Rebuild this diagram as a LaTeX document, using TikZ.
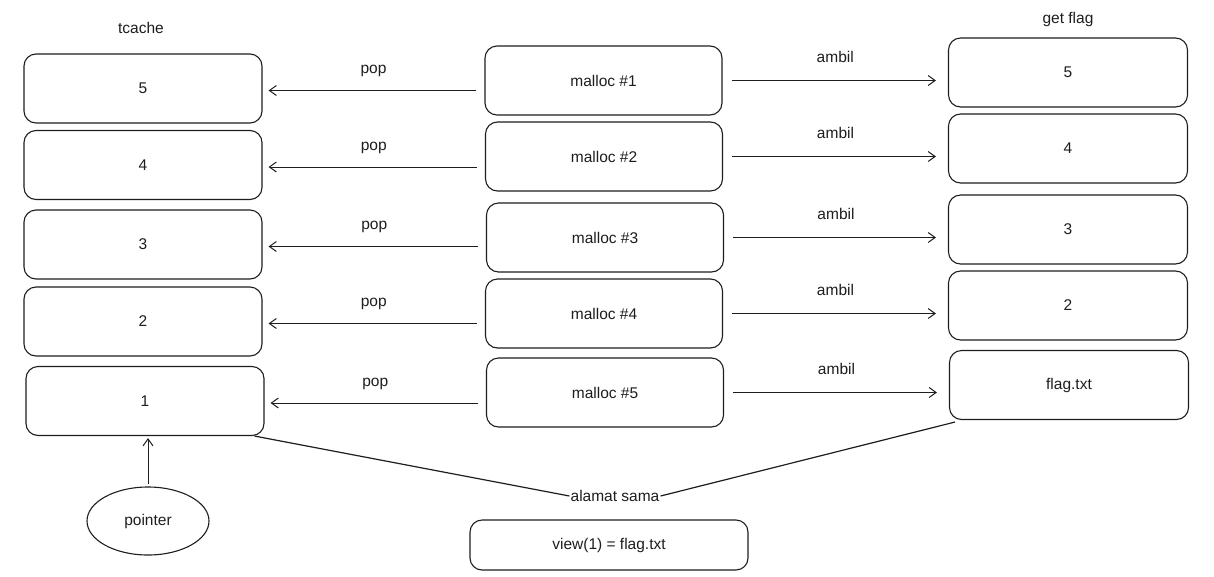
\documentclass[tikz,border=0pt]{standalone}
\usepackage{fontspec}
\setmainfont{Liberation Sans}
\usetikzlibrary{arrows.meta,shapes.geometric}
\definecolor{ink}{HTML}{1E1E1E}
\begin{document}
\begin{tikzpicture}[x=1pt,y=-1pt,
  box/.style={draw=ink,line width=1.1pt,rounded corners=12pt,minimum width=238pt,minimum height=69pt,inner sep=0pt,font=\fontsize{15.5}{18}\selectfont,text=ink},
  lbl/.style={font=\fontsize{15.5}{18}\selectfont,text=ink,inner sep=1pt},
  arr/.style={draw=ink,line width=1pt,-{Straight Barb[length=7pt,width=10pt]}},
  ln/.style={draw=ink,line width=1.2pt}]
\useasboundingbox (0,0) rectangle (1214,576);
\fill[white] (0,0) rectangle (1214,576);
% titles
\node[lbl] (tt) at (141,28) {tcache};
\node[lbl] (gt) at (1068,19) {get flag};
% tcache column
\node[box] (t5) at (143,88.5) {5};
\node[box] (t4) at (143,165) {4};
\node[box] (t3) at (143,244.5) {3};
\node[box] (t2) at (143,321.5) {2};
\node[box] (t1) at (145,401) {1};
% malloc column
\node[box,minimum width=237pt] (m1) at (603.5,80.5) {malloc \#1};
\node[box,minimum width=237pt] (m2) at (604,156.5) {malloc \#2};
\node[box,minimum width=237pt] (m3) at (605,237.5) {malloc \#3};
\node[box,minimum width=237pt] (m4) at (604,313.5) {malloc \#4};
\node[box,minimum width=237pt] (m5) at (605,392.5) {malloc \#5};
% get flag column
\node[box,minimum width=239pt] (g5) at (1068,72.5) {5};
\node[box,minimum width=239pt] (g4) at (1068,148.5) {4};
\node[box,minimum width=239pt] (g3) at (1068,229.5) {3};
\node[box,minimum width=239pt] (g2) at (1068,305.5) {2};
\node[box,minimum width=239pt] (g1) at (1069,385) {flag.txt};
% pop arrows
\foreach \m/\t in {m1/t5,m2/t4,m3/t3,m4/t2,m5/t1}{
  \draw[arr,shorten <=8pt,shorten >=6pt] ([yshift=-2pt]\m.west |- \t.east) -- ([yshift=-2pt]\t.east) node[midway,lbl,above=12pt] {pop};
}
% ambil arrows
\foreach \m/\g in {m1/g5,m2/g4,m3/g3,m4/g2,m5/g1}{
  \draw[arr,shorten <=9pt,shorten >=12pt] (\m.east) -- (\m.east -| \g.west) node[midway,lbl,above=16pt] {ambil};
}
% pointer
\node[draw=ink,line width=1.1pt,ellipse,minimum width=122pt,minimum height=68pt,lbl] (p) at (148,521) {pointer};
\draw[arr,shorten <=2pt,shorten >=2pt] (p.north) -- (t1.south -| p.north);
% alamat sama
\node[lbl] (as) at (615,496) {alamat sama};
\draw[ln] ([xshift=-10pt]t1.south east) -- (as.west);
\draw[ln] (as.east) -- ([xshift=6pt,yshift=-2pt]g1.south west);
% view box
\node[box,minimum width=278pt,minimum height=50pt] (v) at (609,545) {view(1) = flag.txt};
\end{tikzpicture}
\end{document}
